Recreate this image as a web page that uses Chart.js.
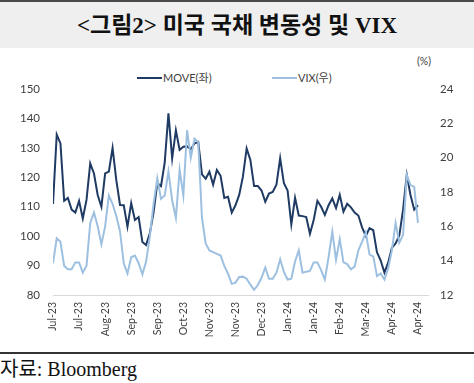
<!DOCTYPE html>
<html>
<head>
<meta charset="utf-8">
<script src="https://cdn.jsdelivr.net/npm/chart.js@4/dist/chart.umd.min.js"></script>
<style>
  body { margin:0; width:474px; height:383px; background:#fff; position:relative; overflow:hidden; }
  .abs { position:absolute; }
  #title { left:0; top:2px; width:474px; height:46px; background:#efefef; text-align:center;
           font:bold 23px "Liberation Serif","Noto Sans CJK KR"; line-height:48px; color:#111; }
  .leg { font:11px Lato,"Noto Sans CJK KR"; color:#404040; top:70px; line-height:16px; white-space:nowrap; }
  .leg span { display:inline-block; width:25px; height:2px; vertical-align:middle; margin-right:1px; position:relative; top:-1px; }
  #unit { left:417px; top:55px; font:10.5px Lato; color:#404040; }
  #src { left:0; top:357px; font:20px "Liberation Serif","Noto Sans CJK KR"; line-height:24px; color:#111; }
</style>
</head>
<body>
<div class="abs" style="left:0;top:0;width:474px;height:2px;background:#4a4a4a"></div>
<div id="title" class="abs">&lt;그림2&gt; 미국 국채 변동성 및 VIX</div>
<div class="abs leg" style="left:137px"><span style="background:#1f3b63"></span>MOVE(좌)</div>
<div class="abs leg" style="left:272px"><span style="background:#9dc0e0"></span>VIX(우)</div>
<div id="unit" class="abs">(%)</div>
<div class="abs" style="left:0;top:50px;width:474px;height:300px"><canvas id="c" width="474" height="300"></canvas></div>
<div class="abs" style="left:0;top:352px;width:474px;height:2px;background:#333"></div>
<div id="src" class="abs">자료: Bloomberg</div>

<script>
const tickLabels = ['Jul-23','Jul-23','Aug-23','Sep-23','Sep-23','Oct-23','Nov-23','Nov-23',
  'Dec-23','Jan-24','Jan-24','Feb-24','Mar-24','Apr-24','Apr-24'];
const pointsPerTick = 7;

// MOVE index, left axis
const moveValues = [
  110.9,134.5,131.5,112,113,109,108,112,106,112.3,
  124.7,121.3,114,110,121.3,121.9,130,119,110.6,110.5,
  103.2,111.2,105.5,106.5,98,97,101,108,118,117,
  125,141.7,126.4,136,129.3,130.4,130.5,129.5,131.5,132,
  121,119.5,121.9,117.5,122.5,120.5,113,113.4,108,110.5,
  114,120.2,129.8,125.9,117,117,115.5,111.7,114.5,115,
  117.5,126.5,118,115.5,104,113,107,106.8,106.5,100.8,
  105.5,112,110,107.2,110.5,112.8,109.5,114,108.3,111,
  109.8,108,107,103,100,102.7,102,94.5,91.7,87.6,
  91,96,97.5,100.2,109,120.8,114,109,110.5
];

// VIX, right axis (%)
const vixValues = [
  13.85,15.3,15.1,13.7,13.5,13.5,13.9,13.9,13.3,13.7,
  16.2,16.8,16,14.95,16,17.8,17.3,16.6,15.7,13.85,
  13.25,14.2,14.3,13.85,13.2,13.95,15.4,17.3,18.8,17.6,
  17.8,19.2,17.5,16.5,19.3,17.8,21.6,20.0,21.1,20.9,
  16.5,15,14.6,14.5,14.4,14.3,13.7,13.25,12.65,12.72,
  13.05,13.07,12.95,12.6,12.3,12.58,13.0,13.6,12.95,12.95,
  13.3,14.08,13.35,12.9,12.95,13.95,14.6,13.3,13.36,13.4,
  13.9,13.9,13.45,12.9,14.2,15.7,14.05,15.25,13.9,13.8,
  13.5,13.65,14.6,15.1,15.65,14.35,14.25,13.1,13.26,12.9,
  13.55,14.6,16.2,15.05,15.5,19.0,18.4,18.3,16.2
];

const tickFont = { family:'Lato', size:11.5 };
const textColor = '#404040';

new Chart(document.getElementById('c'), {
  type: 'line',
  data: {
    datasets: [
      {
        label: 'VIX(우)',
        data: vixValues.map((v,i) => ({x:i, y:v})),
        yAxisID: 'y1',
        borderColor: '#9dc0e0',
        backgroundColor: '#9dc0e0',
        borderWidth: 2,
        pointRadius: 0,
        tension: 0
      },
      {
        label: 'MOVE(좌)',
        data: moveValues.map((v,i) => ({x:i, y:v})),
        yAxisID: 'y',
        borderColor: '#1f3b63',
        backgroundColor: '#1f3b63',
        borderWidth: 2,
        pointRadius: 0,
        tension: 0
      }
    ]
  },
  options: {
    responsive: false,
    animation: false,
    layout: { padding: { top: 39, left: 0, right: 0, bottom: 0 } },
    plugins: { legend: { display:false }, tooltip: { enabled:false } },
    scales: {
      x: {
        type: 'linear', min: 0, max: 100.7,
        grid: { display:false, drawTicks:false },
        border: { display:true, color:'#d9d9d9', width:1 },
        ticks: {
          stepSize: pointsPerTick, includeBounds: false, autoSkip: false,
          minRotation: 90, maxRotation: 90, padding: 7,
          color: textColor, font: { family:'Lato', size:10.5 },
          callback: v => tickLabels[v / pointsPerTick] ?? ''
        },
        afterFit: s => { s.height = 55; }
      },
      y: {
        position: 'left', min: 80, max: 150,
        grid: { display:false, drawTicks:false },
        border: { display:false },
        ticks: { stepSize: 10, padding: 13, color: textColor, font: tickFont },
        afterFit: s => { s.width = 53; }
      },
      y1: {
        position: 'right', min: 12, max: 24,
        grid: { display:false, drawTicks:false },
        border: { display:false },
        ticks: { stepSize: 2, padding: 12, color: textColor, font: tickFont },
        afterFit: s => { s.width = 46; }
      }
    }
  }
});
</script>
</body>
</html>
